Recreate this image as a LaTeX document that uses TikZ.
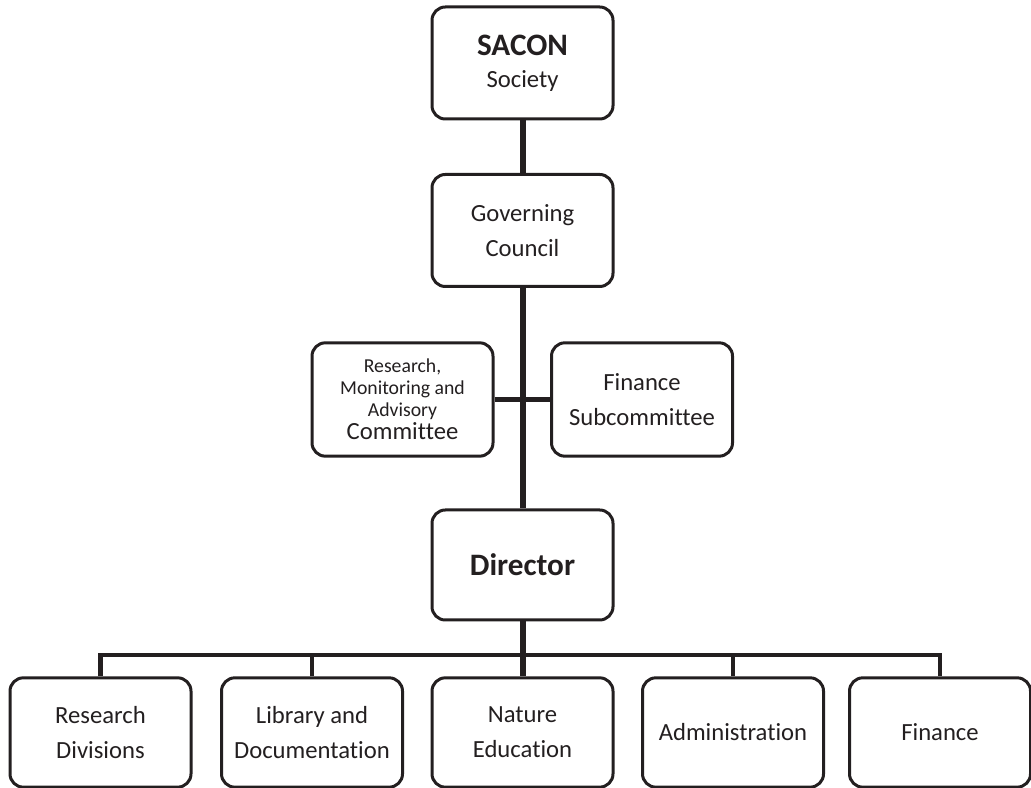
\documentclass[tikz,border=0pt]{standalone}
\usepackage{fontspec}
\setmainfont{Carlito}[Ligatures=NoCommon]
\usepackage{tikz}
\usetikzlibrary{positioning}
\definecolor{ink}{HTML}{231F20}

\begin{document}
\begin{tikzpicture}[x=0.75pt,y=0.75pt,
  unit/.style={draw=ink, text=ink, line width=2.25pt, rounded corners=10pt, align=center,
    minimum width=135.75pt, minimum height=84pt, inner sep=0pt,
    font=\fontsize{18.5}{26}\selectfont},
  head/.style={font=\fontsize{23.4}{28}\selectfont\bfseries},
  trunk/.style={draw=ink, line width=4.5pt},
  link/.style={draw=ink, line width=3.4pt}]
 \useasboundingbox (0,0) rectangle (1031,788);
 \node[unit] (sacon) at (522.5,725) {{\fontsize{23.4}{28}\selectfont\bfseries SACON}\\[-2pt] Society};
 \node[unit] (council) at (522.5,557.5) {Governing\\ Council};
 \node[unit, minimum height=85pt, font=\fontsize{14.8}{16.5}\selectfont] (rma) at (402.5,388.5)
  {Research,\\ Monitoring and\\ Advisory\\[1pt] {\fontsize{18.5}{22}\selectfont Committee}};
 \node[unit, minimum height=85pt] (fsub) at (642,388.5) {Finance\\ Subcommittee};
 \node[unit, head, minimum height=82.5pt] (director) at (522.5,223) {Director};
 \node[unit, minimum height=82pt] (rdiv) at (100.5,55.5) {Research\\ Divisions};
 \node[unit, minimum height=82pt] (lib) at (312,55.5) {Library and\\ Documentation};
 \node[unit, minimum height=82pt] (nat) at (522.5,55.5) {Nature\\ Education};
 \node[unit, minimum height=82pt] (adm) at (733,55.5) {Administration};
 \node[unit, minimum height=82pt] (fin) at (940,55.5) {Finance};
 \coordinate (bus) at (0,133);

 \path[trunk] (sacon) -- (council)
  (council) -- (director)
  (director) -- (nat);
 \path[link] (rma) -- (fsub)
  (rdiv.north) -- (rdiv.north |- bus) -- (fin.north |- bus) -- (fin.north);
 \foreach \n in {lib,adm}
  \path[link] (\n.north) -- (\n.north |- bus);
\end{tikzpicture}
\end{document}
